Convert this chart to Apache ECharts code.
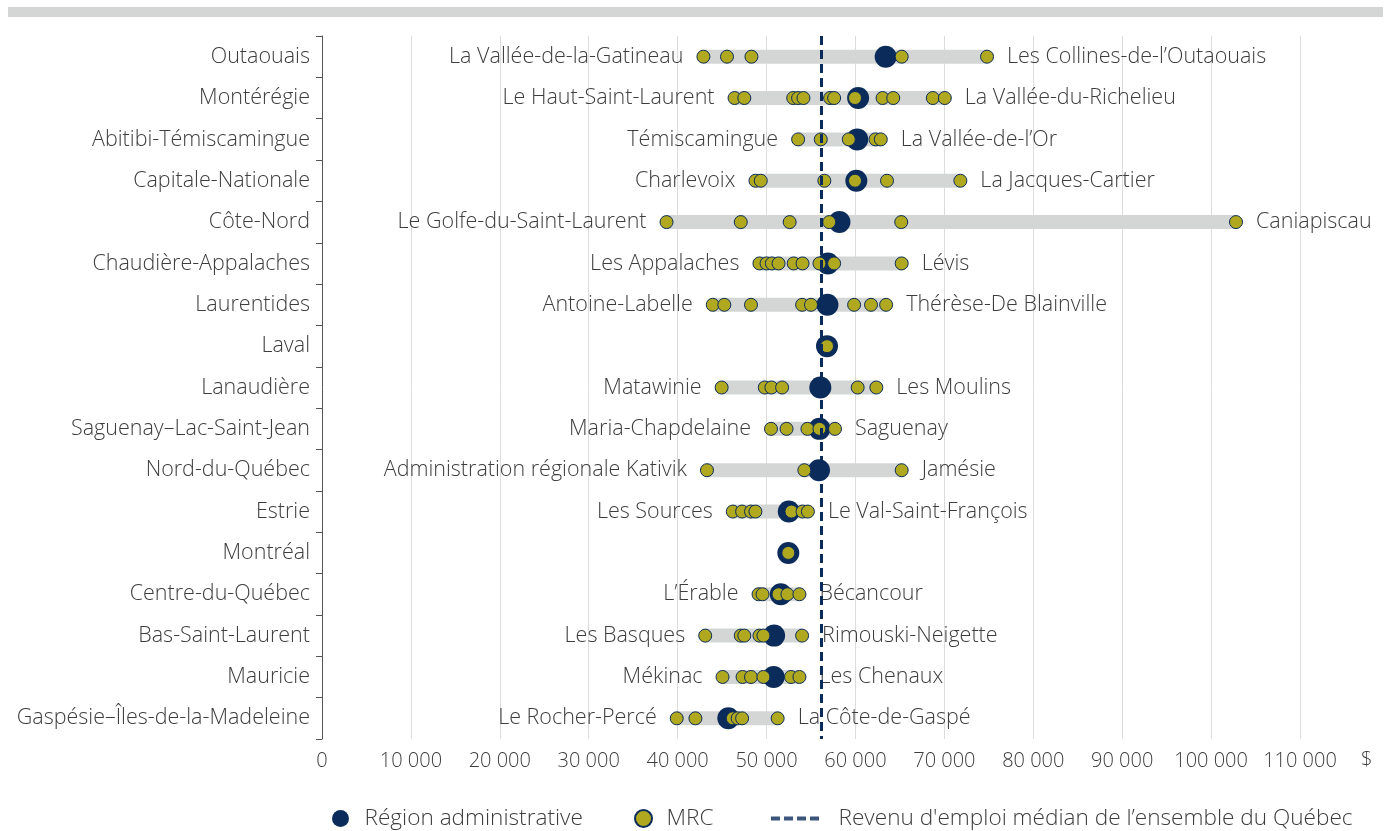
<!DOCTYPE html>
<html>
<head>
<meta charset="utf-8">
<script src="https://cdn.jsdelivr.net/npm/echarts@6/dist/echarts.min.js"></script>
<style>
html,body{margin:0;padding:0;background:#fff;}
#chart{width:1386px;height:831px;}
</style>
</head>
<body>
<div id="chart"></div>
<script>
const regions = ['Outaouais','Montérégie','Abitibi-Témiscamingue','Capitale-Nationale','Côte-Nord','Chaudière-Appalaches','Laurentides','Laval','Lanaudière','Saguenay–Lac-Saint-Jean','Nord-du-Québec','Estrie','Montréal','Centre-du-Québec','Bas-Saint-Laurent','Mauricie','Gaspésie–Îles-de-la-Madeleine'];
const regionValues = [63400,60300,60200,60100,58200,56900,56850,56800,56050,55950,55900,52500,52450,51600,50850,50800,45700];
const minLabels = ['La Vallée-de-la-Gatineau','Le Haut-Saint-Laurent','Témiscamingue','Charlevoix','Le Golfe-du-Saint-Laurent','Les Appalaches','Antoine-Labelle','','Matawinie','Maria-Chapdelaine','Administration régionale Kativik','Les Sources','','L’Érable','Les Basques','Mékinac','Le Rocher-Percé'];
const maxLabels = ['Les Collines-de-l’Outaouais','La Vallée-du-Richelieu','La Vallée-de-l’Or','La Jacques-Cartier','Caniapiscau','Lévis','Thérèse-De Blainville','','Les Moulins','Saguenay','Jamésie','Le Val-Saint-François','','Bécancour','Rimouski-Neigette','Les Chenaux','La Côte-de-Gaspé'];
const mrcValues = [
  [42900,45550,48300,65200,74800],
  [46400,47500,53000,53550,54150,57150,57600,59950,63050,64250,68700,70050],
  [53550,56100,59250,62250,62850],
  [48750,49350,56500,59950,63550,71800],
  [38750,47100,52600,57050,65150,102800],
  [49200,50000,50600,51350,53050,54050,55950,57600,65200],
  [43950,45250,48250,54000,55000,59850,61750,63450],
  [56800],
  [44950,49800,50550,51750,60250,62350],
  [50500,52250,54600,55950,57700],
  [43300,54250,65200],
  [46200,47250,48250,48750,52800,54050,54650],
  [52450],
  [49100,49550,51350,52350,53700],
  [43100,47100,47500,49200,49650,54000],
  [45050,47300,48250,49650,52750,53700],
  [39900,42000,46200,46750,47250,51250]
];
const quebecMedian = 56100;
const xTickUnit = '$';

const FONT = '"Open Sans", "Noto Sans", sans-serif';
const TXT = '#3d3d3d';
const NAVY = '#0b2c5a';
const OLIVE = '#b0a91f';

const minVals = mrcValues.map(a => Math.min(...a));
const rangeVals = mrcValues.map((a, i) => Math.max(...a) - minVals[i]);
const regionData = regionValues.map((v, i) => [v, regions[i]]);
const mrcData = [];
mrcValues.forEach((arr, i) => arr.forEach(v => mrcData.push([v, regions[i]])));

const chart = echarts.init(document.getElementById('chart'));
const labelStyle = {fontFamily: FONT, fontWeight: 300, fontSize: 21.5, color: TXT};
const legendText = {fontFamily: FONT, fontWeight: 300, fontSize: 22.6, color: TXT};

chart.setOption({
  animation: false,
  textStyle: {fontFamily: FONT},
  grid: {left: 322, right: 86, top: 36, bottom: 92},
  xAxis: {
    type: 'value', min: 0, max: 110000, interval: 10000,
    axisLine: {show: false}, axisTick: {show: false},
    splitLine: {show: true, lineStyle: {color: '#dcdcdc', width: 1}},
    axisLabel: {
      margin: 12, fontFamily: FONT, fontWeight: 300, fontSize: 20, color: TXT,
      formatter: v => v === 0 ? '0' : String(v).replace(/\B(?=(\d{3})+(?!\d))/g, ' ')
    }
  },
  yAxis: {
    type: 'category', data: regions, inverse: true,
    axisLine: {show: true, lineStyle: {color: '#555', width: 1}},
    axisTick: {show: true, length: 6, lineStyle: {color: '#555'}},
    axisLabel: {margin: 12, fontFamily: FONT, fontWeight: 300, fontSize: 21.5, color: TXT},
    splitLine: {show: false}
  },
  legend: [
    {left: 327, top: 802, itemWidth: 32, itemHeight: 17, itemGap: 0, textStyle: Object.assign({padding: [0, 0, 0, 3]}, legendText),
     data: [{name: 'Région administrative', icon: 'circle'}]},
    {left: 629, top: 802, itemWidth: 32, itemHeight: 17, itemGap: 0, textStyle: Object.assign({padding: [0, 0, 0, 2]}, legendText),
     data: [{name: 'MRC', icon: 'circle'}]},
    {left: 766, top: 802, itemWidth: 51, itemHeight: 4, itemGap: 0, textStyle: Object.assign({padding: [0, 0, 0, 13]}, legendText),
     data: [{name: 'Revenu d\'emploi médian de l’ensemble du Québec', icon: 'path://M0,0h9v4h-9z M13,0h9v4h-9z M26,0h9v4h-9z M39,0h9v4h-9z'}]}
  ],
  graphic: [
    {type: 'rect', left: 8, top: 7, shape: {width: 1375, height: 10}, style: {fill: '#d4d6d6'}, silent: true},
    {type: 'text', left: 1361, top: 750, style: {text: xTickUnit, font: '300 20px ' + FONT, fill: TXT}, silent: true}
  ],
  series: [
    {
      name: 'base', type: 'bar', stack: 'rng', barWidth: 14, z: 1, silent: true,
      data: minVals,
      itemStyle: {color: 'rgba(0,0,0,0)'},
      label: Object.assign({show: true, position: 'insideRight', distance: 20,
        formatter: p => minLabels[p.dataIndex]}, labelStyle)
    },
    {
      name: 'range', type: 'bar', stack: 'rng', barWidth: 14, z: 1, silent: true,
      data: rangeVals,
      itemStyle: {color: '#d4d6d6'},
      label: Object.assign({show: true, position: 'right', distance: 20,
        formatter: p => maxLabels[p.dataIndex]}, labelStyle)
    },
    {
      name: 'Revenu d\'emploi médian de l’ensemble du Québec', type: 'scatter', data: [], z: 2,
      itemStyle: {color: NAVY},
      markLine: {
        silent: true, symbol: 'none', label: {show: false},
        lineStyle: {color: NAVY, width: 3, type: [9, 5]},
        data: [{xAxis: quebecMedian}]
      }
    },
    {
      name: 'Région administrative', type: 'scatter', data: regionData, symbolSize: 22, z: 3,
      itemStyle: {color: NAVY, opacity: 1}
    },
    {
      name: 'MRC', type: 'scatter', data: mrcData, symbolSize: 13, z: 4,
      itemStyle: {color: OLIVE, borderColor: NAVY, borderWidth: 1, opacity: 1}
    }
  ]
});
</script>
</body>
</html>
